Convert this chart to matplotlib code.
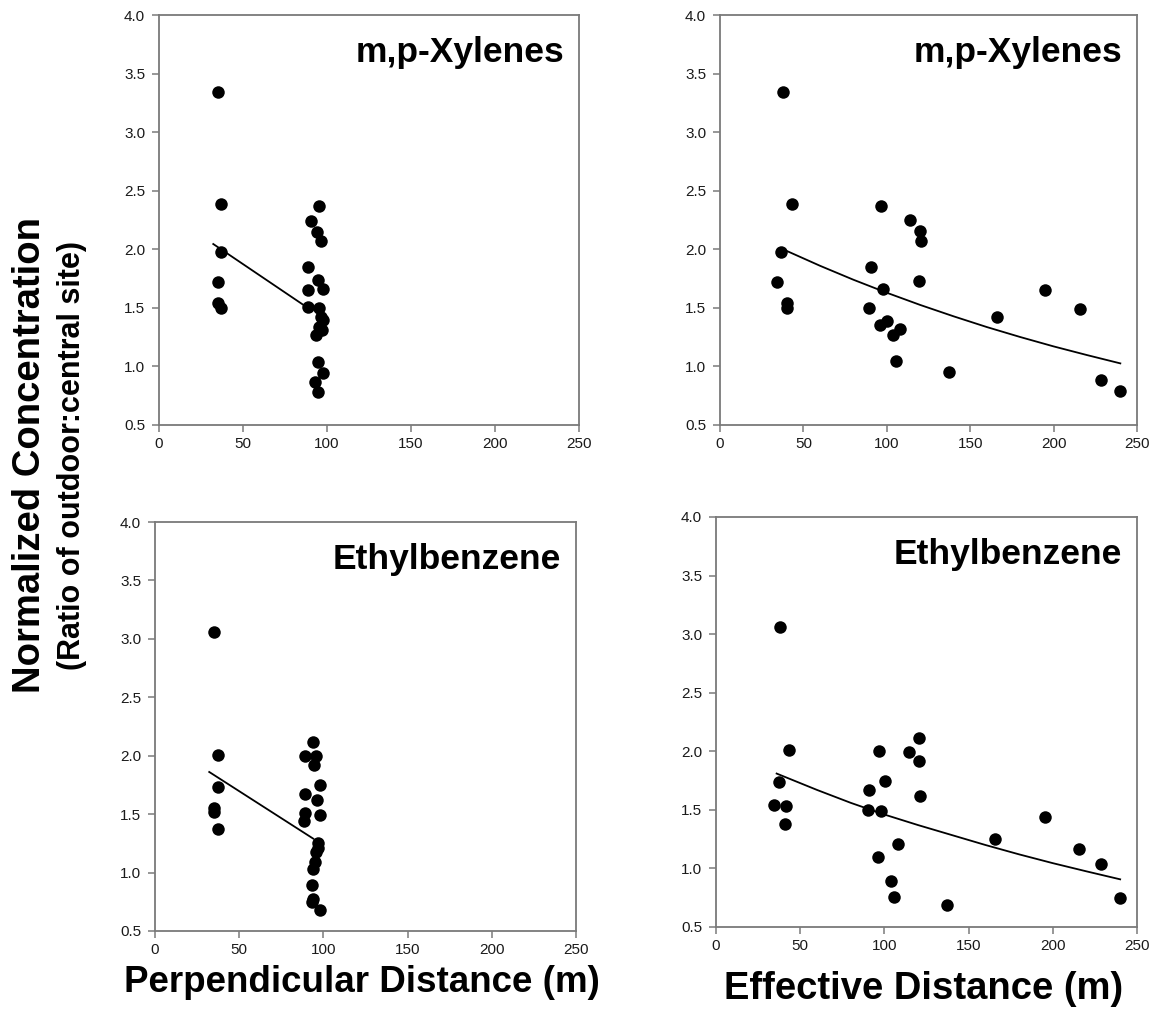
import matplotlib
matplotlib.use("Agg")
import matplotlib.pyplot as plt
from matplotlib.ticker import FormatStrFormatter

plt.rcParams['font.family'] = ['Liberation Sans', 'DejaVu Sans']

# ---------------- data ----------------
xtick_vals = [0, 50, 100, 150, 200, 250]
ytick_vals = [0.5, 1.0, 1.5, 2.0, 2.5, 3.0, 3.5, 4.0]

# m,p-Xylenes vs perpendicular distance
xyl_perp_x = [34.9, 37.2, 37.2, 34.9, 34.9, 37.2,
              95.2, 90.3, 93.8, 96.2, 88.9, 94.8, 97.8, 88.9, 88.9, 95.4,
              97.8, 95.4, 96.8, 93.5, 96.5, 94.8, 97.8, 92.9, 94.8]
xyl_perp_y = [3.34, 2.39, 1.98, 1.72, 1.54, 1.50,
              2.37, 2.24, 2.15, 2.07, 1.85, 1.74, 1.66, 1.65, 1.51, 1.50,
              1.40, 1.34, 1.31, 1.27, 1.42, 1.04, 0.94, 0.87, 0.78]
xyl_perp_fit_x = [32.3, 87.0]
xyl_perp_fit_y = [2.045, 1.515]

# m,p-Xylenes vs effective distance
xyl_eff_x = [37.6, 43.1, 36.8, 34.0, 40.1, 40.1, 96.4, 113.9, 120.2, 120.6,
             90.4, 119.4, 97.6, 195.0, 89.6, 215.8, 100.0, 96.0, 107.7, 103.5,
             166.3, 105.5, 137.1, 228.5, 240.1]
xyl_eff_y = [3.34, 2.39, 1.98, 1.72, 1.54, 1.50, 2.37, 2.25, 2.16, 2.07,
             1.85, 1.73, 1.66, 1.65, 1.50, 1.49, 1.39, 1.35, 1.32, 1.27,
             1.42, 1.05, 0.95, 0.88, 0.79]
xyl_eff_fit_x = [40, 60, 80, 100, 120, 140, 160, 180, 200, 220, 240]
xyl_eff_fit_y = [1.986, 1.859, 1.740, 1.629, 1.525, 1.428, 1.336, 1.251,
                 1.171, 1.097, 1.026]

# Ethylbenzene vs perpendicular distance
eth_perp_x = [35.0, 37.5, 37.5, 35.0, 35.0, 37.5,
              93.9, 89.0, 95.5, 94.2, 97.9, 89.0, 96.3, 89.0, 97.9, 88.4,
              96.9, 96.5, 95.9, 94.9, 93.9, 93.5, 93.9, 97.9, 93.5]
eth_perp_y = [3.06, 2.01, 1.73, 1.55, 1.52, 1.37,
              2.12, 2.00, 2.00, 1.92, 1.75, 1.67, 1.62, 1.51, 1.49, 1.44,
              1.25, 1.21, 1.18, 1.09, 1.03, 0.89, 0.77, 0.68, 0.75]
eth_perp_fit_x = [32.2, 94.0]
eth_perp_fit_y = [1.861, 1.290]

# Ethylbenzene vs effective distance
eth_eff_x = [38.0, 43.5, 37.6, 34.4, 41.3, 41.1, 120.6, 96.9, 114.5, 120.3,
             100.3, 90.8, 121.0, 90.4, 97.9, 195.2, 108.0, 165.9, 215.4, 96.3,
             228.8, 104.2, 105.6, 137.3, 240.1]
eth_eff_y = [3.06, 2.01, 1.74, 1.54, 1.53, 1.38, 2.11, 2.00, 1.99, 1.92,
             1.75, 1.67, 1.62, 1.50, 1.49, 1.44, 1.21, 1.25, 1.17, 1.10,
             1.04, 0.89, 0.76, 0.69, 0.75]
eth_eff_fit_x = [36, 60, 80, 100, 120, 140, 160, 180, 200, 220, 240]
eth_eff_fit_y = [1.810, 1.670, 1.560, 1.460, 1.370, 1.285, 1.200, 1.120,
                 1.045, 0.975, 0.907]

titles = ["m,p-Xylenes", "m,p-Xylenes", "Ethylbenzene", "Ethylbenzene"]

# ---------------- figure ----------------
W, H = 1157, 1015
fig = plt.figure(figsize=(W / 100, H / 100), dpi=100)


def px_axes(l, r, t, b):
    return fig.add_axes([l / W, 1 - b / H, (r - l) / W, (b - t) / H])


ax_tl = px_axes(159, 579, 15, 425)
ax_tr = px_axes(720, 1137, 15, 425)
ax_bl = px_axes(155, 576, 522, 931)
ax_br = px_axes(716, 1137, 517, 927)

panels = [
    (ax_tl, xyl_perp_x, xyl_perp_y, xyl_perp_fit_x, xyl_perp_fit_y, titles[0]),
    (ax_tr, xyl_eff_x, xyl_eff_y, xyl_eff_fit_x, xyl_eff_fit_y, titles[1]),
    (ax_bl, eth_perp_x, eth_perp_y, eth_perp_fit_x, eth_perp_fit_y, titles[2]),
    (ax_br, eth_eff_x, eth_eff_y, eth_eff_fit_x, eth_eff_fit_y, titles[3]),
]

spine_col = "#7a7a7a"
for ax, x, y, fx, fy, title in panels:
    ax.plot(fx, fy, color="black", lw=1.3, zorder=2)
    ax.plot(x, y, "o", color="black", markersize=9.0, markeredgewidth=0,
            zorder=3, clip_on=False)
    ax.set_xlim(0, 250)
    ax.set_ylim(0.5, 4.0)
    ax.set_xticks(xtick_vals)
    ax.set_yticks(ytick_vals)
    ax.yaxis.set_major_formatter(FormatStrFormatter("%.1f"))
    ax.tick_params(direction="out", length=5, width=1.1, color=spine_col,
                   labelsize=11, labelcolor="#1a1a1a")
    ax.tick_params(axis="x", pad=4)
    ax.tick_params(axis="y", pad=5)
    for s in ax.spines.values():
        s.set_color(spine_col)
        s.set_linewidth(1.3)
    ax.text(0.965, 0.885, title, transform=ax.transAxes, ha="right",
            va="baseline", fontsize=25.5, fontweight="bold")

# axis labels
fig.text(362 / W, 1 - 983 / H, "Perpendicular Distance (m)", ha="center",
         va="center", fontsize=26.5, fontweight="bold")
fig.text(924 / W, 1 - 989 / H, "Effective Distance (m)", ha="center",
         va="center", fontsize=27.5, fontweight="bold")
fig.text(30 / W, 1 - 455 / H, "Normalized Concentration", rotation=90,
         ha="center", va="center", fontsize=27.5, fontweight="bold")
fig.text(72 / W, 1 - 455 / H, "(Ratio of outdoor:central site)", rotation=90,
         ha="center", va="center", fontsize=22, fontweight="bold")

fig.savefig("out.png", dpi=100)
